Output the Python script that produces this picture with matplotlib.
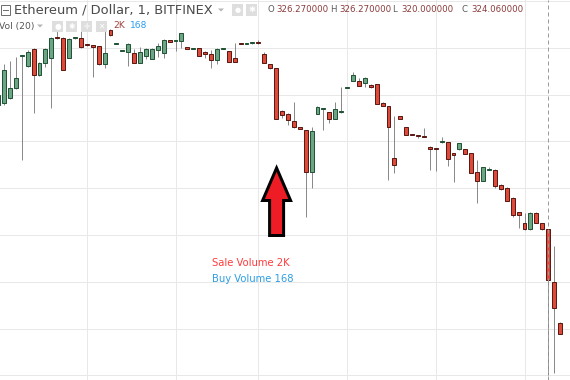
import matplotlib
matplotlib.use("Agg")
import matplotlib.pyplot as plt
from matplotlib.patches import Rectangle, Polygon

# ---------------- data (1-minute ETH/USD candles) ----------------
opens = [331.55, 331.64, 331.85, 332.28, 333.64, 333.22, 333.95, 332.84, 333.35, 333.56,
         334.43, 334.42, 333.56, 334.40, 334.42, 334.13, 334.08, 334.07, 333.30, 334.76,
         334.16, 333.85, 333.82, 333.78, 333.35, 333.65, 333.52, 333.90, 333.78, 334.33,
         334.29, 334.29, 334.03, 333.94, 333.99, 333.82, 333.73, 333.48, 333.94, 333.86,
         333.56, 334.17, 334.15, 334.19, 334.21, 333.73, 333.30, 333.13, 331.30, 331.17,
         330.87, 330.61, 330.48, 328.69, 331.17, 331.37, 331.25, 330.96, 331.24, 332.27,
         332.58, 332.58, 332.49, 332.41, 332.45, 331.64, 331.51, 329.29, 331.08, 330.61,
         330.28, 330.24, 330.20, 329.76, 329.68, 329.96, 329.97, 329.50, 329.67, 329.67,
         329.50, 328.69, 328.31, 328.77, 328.78, 328.14, 328.01, 327.58, 326.98, 326.51,
         326.25, 326.94, 326.51, 326.27, 323.99, 322.24]
highs = [332.19, 333.30, 333.43, 333.60, 333.69, 333.90, 333.99, 333.38, 333.99, 334.44,
         334.89, 334.44, 334.40, 334.44, 334.89, 334.14, 334.10, 334.09, 335.01, 334.78,
         334.20, 333.89, 334.20, 333.95, 334.03, 333.97, 333.97, 334.20, 334.37, 334.35,
         334.33, 334.65, 334.05, 333.97, 334.01, 333.84, 333.90, 333.97, 333.97, 333.88,
         334.20, 334.18, 334.18, 334.22, 334.33, 333.82, 333.32, 333.15, 331.32, 331.19,
         331.68, 330.63, 330.50, 330.61, 331.49, 331.40, 331.27, 331.68, 332.32, 332.30,
         332.96, 332.71, 332.73, 332.43, 332.47, 331.66, 331.53, 331.08, 331.10, 330.63,
         330.29, 330.25, 330.57, 329.78, 329.69, 330.19, 329.99, 329.52, 329.95, 329.69,
         329.52, 329.20, 328.92, 328.90, 328.80, 328.16, 328.03, 327.60, 327.00, 326.94,
         326.96, 326.96, 326.53, 326.27, 325.53, 322.26]
lows = [331.21, 331.55, 331.82, 332.25, 329.20, 333.18, 331.21, 332.80, 333.18, 331.43,
        334.38, 333.03, 333.54, 334.38, 334.01, 334.08, 332.75, 333.28, 333.13, 334.52,
        334.15, 333.84, 333.22, 333.33, 333.33, 333.52, 333.50, 333.60, 333.56, 334.23,
        333.86, 333.99, 333.93, 333.93, 333.63, 333.56, 333.13, 333.30, 333.93, 333.37,
        333.37, 334.14, 334.14, 334.18, 334.18, 333.33, 333.11, 330.94, 331.01, 330.70,
        330.59, 330.51, 326.77, 328.01, 331.15, 330.48, 330.78, 330.94, 331.22, 332.26,
        332.56, 332.35, 332.32, 332.30, 331.58, 331.49, 328.35, 328.65, 330.94, 330.25,
        330.25, 330.14, 330.17, 328.78, 328.73, 329.95, 328.95, 328.26, 329.65, 329.44,
        328.63, 327.37, 328.29, 328.76, 328.01, 327.94, 327.43, 326.77, 326.30, 326.23,
        326.23, 326.49, 326.23, 320.00, 320.10, 321.75]
closes = [331.98, 333.05, 332.28, 332.71, 333.67, 333.82, 332.84, 333.35, 333.95, 334.42,
          334.40, 333.05, 334.37, 334.42, 334.03, 334.10, 334.05, 333.30, 333.78, 334.54,
          334.19, 333.88, 334.16, 333.35, 333.82, 333.95, 333.95, 334.07, 334.33, 334.25,
          334.31, 334.63, 333.95, 333.96, 333.65, 333.73, 333.48, 333.95, 333.96, 333.39,
          333.39, 334.15, 334.17, 334.21, 334.19, 333.35, 333.13, 330.96, 331.13, 330.91,
          330.61, 330.53, 328.69, 330.44, 331.47, 331.39, 330.96, 331.38, 331.26, 332.29,
          332.84, 332.37, 332.71, 332.32, 331.60, 331.51, 330.61, 328.99, 330.96, 330.27,
          330.26, 330.22, 330.18, 329.67, 329.66, 329.98, 329.25, 329.42, 329.93, 329.46,
          328.65, 328.31, 328.90, 328.79, 328.09, 327.96, 327.45, 326.85, 326.85, 326.25,
          326.94, 326.51, 326.25, 324.06, 322.88, 321.77]

price_grid = [320, 322, 324, 326, 328, 330, 332, 334, 336]
time_grid = [15, 30, 44, 59, 74, 89]       # candle index of each minute grid line
cursor_index = 93                            # hovered candle (crosshair)
arrow_index = 47                             # candle the arrow points at

title = "Ethereum / Dollar, 1, BITFINEX"
ohlc_letters = ["O", "H", "L", "C"]
ohlc_values = ["326.270000", "326.270000", "320.000000", "324.060000"]
vol_label = "Vol (20)"
sale_volume = "2K"
buy_volume = "168"
note_sale = "Sale Volume 2K"
note_buy = "Buy Volume 168"

# ---------------- figure ----------------
W, H = 570, 380
fig = plt.figure(figsize=(W / 100, H / 100), dpi=100)
fig.patch.set_facecolor("white")
ax = fig.add_axes([0, 0, 1, 1])
ax.set_xlim(0.324, 96.69)
ax.set_ylim(319.80, 336.04)
ax.axis("off")

PX = 0.72  # one pixel in points
grid_c = "#e8e8e8"
for p in price_grid:
    ax.axhline(p, color=grid_c, lw=PX, zorder=0)
for t in time_grid:
    ax.axvline(t, color=grid_c, lw=PX, zorder=0)

up_face, up_edge = "#6ba583", "#225437"
dn_face, dn_edge = "#dd4a3a", "#5b1a13"
wick_c = "#8a8a8a"
bw = 0.66
for i, (o, h, l, c) in enumerate(zip(opens, highs, lows, closes)):
    up = c >= o
    ax.vlines(i, l, h, color=wick_c, lw=PX, zorder=2)
    bottom = min(o, c)
    height = max(abs(c - o), 0.06)
    ax.add_patch(Rectangle((i - bw / 2, bottom), bw, height,
                           facecolor=up_face if up else dn_face,
                           edgecolor=up_edge if up else dn_edge,
                           lw=PX, zorder=3))

ax.axvline(cursor_index, color="#9b9b9b", lw=PX, ls=(0, (4, 3)), zorder=4)


def fx(x):
    return x / W


def fy(y):
    return 1 - y / H


def ftext(x, y, s, **kw):
    kw.setdefault("va", "center")
    kw.setdefault("ha", "left")
    fig.text(fx(x), fy(y), s, **kw)


# ---------------- legend / header ----------------
# collapse box
fig.add_artist(Rectangle((fx(1), fy(15)), 9 / W, 10 / H, transform=fig.transFigure,
                         facecolor="white", edgecolor="#707070", lw=PX, zorder=5))
fig.add_artist(plt.Line2D([fx(3), fx(8)], [fy(10), fy(10)], transform=fig.transFigure,
                          color="#707070", lw=PX, zorder=6))
ftext(14, 10, title, fontsize=9.4, color="#4a4a4a")
# caret
fig.add_artist(Polygon([[fx(218), fy(8.5)], [fx(224), fy(8.5)], [fx(221), fy(11.5)]],
                       closed=True, transform=fig.transFigure, facecolor="#b5b5b5",
                       edgecolor="none"))
for bx in [232, 246]:
    fig.add_artist(Rectangle((fx(bx), fy(16)), 11 / W, 12 / H, transform=fig.transFigure,
                             facecolor="#dedede", edgecolor="none", zorder=5))
ftext(237.5, 10, "●", fontsize=5, color="white", ha="center", zorder=6)
ftext(251.5, 10, "✱", fontsize=6, color="white", ha="center", zorder=6)

ox = [267, 330, 392, 462]
for x0, let, val in zip(ox, ohlc_letters, ohlc_values):
    ftext(x0, 10, let, fontsize=6.2, color="#5a5a5a")
    ftext(x0 + 9, 10, val, fontsize=6.2, color="#8b3a3a")

ftext(-1, 26, vol_label, fontsize=6.6, color="#555555")
fig.add_artist(Polygon([[fx(37), fy(24.5)], [fx(43), fy(24.5)], [fx(40), fy(27.5)]],
                       closed=True, transform=fig.transFigure, facecolor="#b5b5b5",
                       edgecolor="none"))
glyphs = ["●", "✱", "✛", "✕"]
for bx, g in zip([52, 66, 81, 96], glyphs):
    fig.add_artist(Rectangle((fx(bx), fy(32)), 11 / W, 11 / H, transform=fig.transFigure,
                             facecolor="#dedede", edgecolor="none", zorder=5))
    ftext(bx + 5.5, 26.5, g, fontsize=5.5, color="white", ha="center", zorder=6)
ftext(113, 26, sale_volume, fontsize=6.6, color="#a0413a")
ftext(130, 26, buy_volume, fontsize=6.6, color="#2a9df4")

# ---------------- annotation ----------------
cx = 4 + 5.915 * (arrow_index - 1) + 0.5
arrow_px = [(cx, 168), (cx + 14, 200.5), (cx + 7, 200.5), (cx + 7, 235.5),
            (cx - 7, 235.5), (cx - 7, 200.5), (cx - 14, 200.5)]
fig.add_artist(Polygon([[fx(x), fy(y)] for x, y in arrow_px], closed=True,
                       transform=fig.transFigure, facecolor="#ee1c24",
                       edgecolor="black", lw=3 * PX, joinstyle="miter", zorder=7))

ftext(212, 263, note_sale, fontsize=7.2, color="#ff3b3b")
ftext(212, 279, note_buy, fontsize=7.2, color="#2c9ee6")

fig.savefig("out.png", dpi=100, facecolor="white")
